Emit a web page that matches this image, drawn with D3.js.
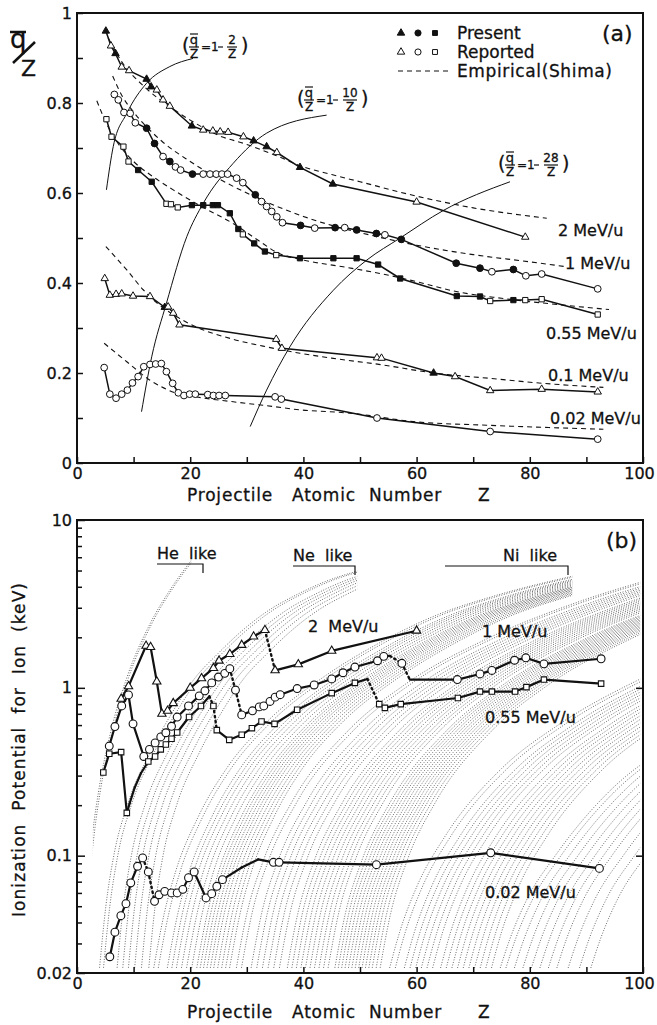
<!DOCTYPE html>
<html>
<head>
<meta charset="utf-8">
<script src="https://cdn.jsdelivr.net/npm/d3@7"></script>
<style>
  body { margin: 0; background: #fff; }
  text { font-family: "DejaVu Sans", sans-serif; fill: #111; stroke: #111; stroke-width: 0.3; }
</style>
</head>
<body>
<svg id="fig" width="657" height="1025"></svg>
<script>
// ---------- panel (a): mean charge fraction q/Z vs Z ----------
// 2 MeV/u (triangles)
var zA2 = [5.1, 6.0, 6.8, 7.9, 9.2, 12.3, 13.1, 14.1, 15.2, 16.4, 20.3, 22.3, 24.0, 25.3, 26.7, 29.4, 31.2, 33.5, 35.3, 39.4, 45.2, 60.0, 79.2];
var qA2 = [0.96, 0.927, 0.91, 0.88, 0.872, 0.853, 0.836, 0.829, 0.807, 0.793, 0.749, 0.74, 0.738, 0.736, 0.735, 0.725, 0.716, 0.703, 0.69, 0.657, 0.62, 0.58, 0.502];
var fA2 = [1, 0, 1, 0, 0, 1, 1, 0, 0, 0, 1, 0, 0, 0, 0, 0, 1, 1, 0, 1, 1, 0, 0];
// 1 MeV/u (circles)
var zA1 = [6.6, 7.3, 8.3, 9.4, 10.3, 12.3, 13.7, 15.2, 16.4, 17.4, 18.3, 20.4, 22.3, 23.5, 24.6, 25.6, 26.6, 28.2, 29.3, 31.5, 32.6, 33.5, 34.4, 35.3, 36.3, 39.5, 42.0, 45.6, 47.3, 49.4, 52.9, 54.4, 57.3, 67.0, 71.2, 73.3, 77.1, 79.3, 82.1, 92.0];
var qA1 = [0.819, 0.807, 0.779, 0.777, 0.756, 0.744, 0.71, 0.681, 0.67, 0.658, 0.651, 0.642, 0.642, 0.642, 0.642, 0.642, 0.642, 0.633, 0.623, 0.596, 0.581, 0.57, 0.559, 0.547, 0.534, 0.528, 0.522, 0.523, 0.523, 0.518, 0.51, 0.507, 0.497, 0.444, 0.433, 0.425, 0.43, 0.416, 0.42, 0.387];
var fA1 = [0, 0, 0, 0, 0, 1, 1, 0, 1, 0, 0, 1, 0, 0, 0, 0, 0, 0, 0, 1, 0, 0, 0, 0, 0, 1, 0, 1, 0, 1, 1, 0, 1, 1, 1, 0, 1, 0, 0, 0];
// 0.55 MeV/u (squares)
var zA055 = [5.2, 6.1, 8.2, 9.1, 10.8, 13.2, 15.8, 16.6, 17.8, 20.3, 22.3, 24.0, 24.9, 27.0, 28.5, 29.3, 31.3, 33.2, 35.2, 39.4, 45.3, 49.4, 53.2, 57.1, 67.1, 71.2, 73.0, 77.1, 79.2, 82.1, 92.0];
var qA055 = [0.764, 0.725, 0.703, 0.67, 0.651, 0.625, 0.576, 0.575, 0.568, 0.573, 0.573, 0.573, 0.573, 0.555, 0.52, 0.508, 0.488, 0.47, 0.462, 0.455, 0.455, 0.455, 0.441, 0.41, 0.371, 0.37, 0.36, 0.362, 0.362, 0.364, 0.33];
var fA055 = [0, 0, 0, 0, 1, 1, 0, 0, 0, 1, 1, 1, 1, 1, 1, 0, 1, 1, 0, 1, 1, 1, 1, 1, 1, 1, 0, 1, 0, 0, 0];
// 0.1 MeV/u (triangles)
var zA01 = [4.9, 5.8, 6.9, 7.9, 9.9, 12.9, 15.5, 16.1, 17.0, 18.1, 35.2, 36.2, 53.0, 53.8, 63.0, 66.8, 73.0, 82.1, 92.0];
var qA01 = [0.41, 0.373, 0.375, 0.376, 0.371, 0.37, 0.346, 0.347, 0.333, 0.307, 0.275, 0.255, 0.234, 0.233, 0.2, 0.192, 0.161, 0.164, 0.158];
var fA01 = [0, 0, 0, 0, 0, 0, 1, 0, 0, 0, 0, 0, 0, 0, 1, 0, 0, 0, 0];
// 0.02 MeV/u (circles)
var zA002 = [4.8, 5.8, 6.9, 7.9, 8.9, 9.8, 10.8, 11.8, 12.9, 13.9, 14.9, 15.8, 16.9, 17.9, 18.9, 19.9, 20.9, 23.1, 24.1, 25.1, 26.2, 35.0, 36.1, 53.0, 73.0, 92.0];
var qA002 = [0.212, 0.153, 0.144, 0.153, 0.162, 0.178, 0.192, 0.214, 0.219, 0.22, 0.221, 0.203, 0.177, 0.156, 0.15, 0.153, 0.153, 0.152, 0.15, 0.15, 0.15, 0.147, 0.142, 0.1, 0.07, 0.053];

// empirical curves (Shima)
var shZ2 = [5.5, 8, 12, 16, 20, 25, 30, 35, 40, 45, 50, 60, 70, 83];
var shQ2 = [0.945, 0.89, 0.835, 0.795, 0.762, 0.728, 0.708, 0.684, 0.658, 0.641, 0.625, 0.593, 0.567, 0.544];
var shZ1 = [6.3, 8, 10, 15, 20, 25, 30, 35, 40, 45, 50, 60, 70, 80, 86];
var shQ1 = [0.86, 0.815, 0.78, 0.715, 0.67, 0.632, 0.6, 0.572, 0.548, 0.528, 0.512, 0.484, 0.463, 0.447, 0.437];
var shZ055 = [3.5, 5, 7, 10, 13, 17, 22, 27.6, 32, 35.3, 40, 47, 54, 60, 67, 75, 85, 94];
var shQ055 = [0.805, 0.76, 0.715, 0.67, 0.64, 0.607, 0.57, 0.532, 0.495, 0.468, 0.451, 0.436, 0.42, 0.403, 0.381, 0.366, 0.352, 0.341];
var shZ01 = [5.1, 8.8, 11.7, 14.1, 17, 20.6, 27.6, 33.5, 39.4, 45, 54, 63, 73, 82.4, 93];
var shQ01 = [0.481, 0.429, 0.385, 0.356, 0.33, 0.305, 0.275, 0.258, 0.244, 0.233, 0.218, 0.2, 0.188, 0.177, 0.168];
var shZ002 = [4.8, 8.8, 12.9, 17.6, 22, 27.6, 35, 39.4, 44.7, 48.8, 59.4, 72.4, 93];
var shQ002 = [0.266, 0.225, 0.184, 0.155, 0.145, 0.136, 0.125, 0.118, 0.114, 0.11, 0.092, 0.084, 0.075];

// thin reference curves q/Z = 1 - n/Z
var refZ2 = [5.2, 6.4, 8.8, 12.3, 16.4, 20.5];
var refQ2 = [0.607, 0.703, 0.777, 0.844, 0.881, 0.899];
var refZ10 = [11.4, 13.2, 15.8, 19.4, 22.3, 27.6, 33.5, 44.1];
var refQ10 = [0.114, 0.236, 0.355, 0.503, 0.577, 0.666, 0.733, 0.773];
var refZ28 = [30.6, 33.5, 37.6, 45.3, 51.2, 57.1, 64.7, 76.5];
var refQ28 = [0.081, 0.162, 0.258, 0.384, 0.451, 0.5, 0.561, 0.625];

// ---------- panel (b): ionization potential (keV) vs Z ----------
var zB2 = [7.8, 9.1, 12.2, 13.0, 14.1, 15.0, 16.0, 17.0, 20.0, 22.0, 24.1, 25.1, 27.0, 29.1, 31.2, 33.2, 35.0, 39.1, 45.0, 60.0];
var iB2 = [0.86, 1.02, 1.78, 1.75, 1.09, 0.70, 0.73, 0.81, 1.0, 1.14, 1.31, 1.45, 1.59, 1.8, 2.02, 2.21, 1.27, 1.38, 1.66, 2.19];
var dotB2 = [16];
var hideB2 = [];

var zB1 = [5.7, 6.7, 7.9, 9.1, 9.9, 11.8, 12.8, 13.8, 14.8, 15.7, 16.7, 17.7, 19.7, 21.6, 22.6, 23.8, 25.0, 26.1, 27.0, 28.0, 29.1, 31.0, 32.2, 33.0, 34.1, 35.0, 35.9, 38.9, 41.9, 45.0, 47.0, 49.1, 53.1, 54.2, 55.3, 57.4, 58.8, 67.2, 71.2, 73.3, 77.3, 79.3, 82.5, 92.6];
var iB1 = [0.45, 0.588, 0.78, 0.908, 0.61, 0.39, 0.43, 0.47, 0.51, 0.54, 0.59, 0.67, 0.78, 0.896, 0.96, 1.07, 1.16, 1.22, 1.30, 0.97, 0.69, 0.73, 0.77, 0.78, 0.83, 0.88, 0.91, 0.99, 1.04, 1.13, 1.23, 1.33, 1.45, 1.54, 1.55, 1.40, 1.12, 1.12, 1.21, 1.27, 1.46, 1.51, 1.39, 1.49];
var dotB1 = [19, 20, 34, 35, 36];
var hideB1 = [34, 36];

var zB055 = [4.65, 5.7, 7.8, 8.8, 9.3, 10.2, 11.3, 12.6, 13.8, 14.8, 15.7, 16.7, 17.7, 19.8, 21.9, 23.4, 24.1, 24.7, 26.9, 29.1, 30.9, 32.6, 34.9, 38.9, 45.0, 49.1, 51.3, 53.4, 54.4, 57.2, 67.3, 71.2, 73.3, 77.4, 79.4, 82.5, 92.6];
var iB055 = [0.313, 0.405, 0.414, 0.18, 0.205, 0.255, 0.31, 0.364, 0.39, 0.43, 0.46, 0.497, 0.542, 0.67, 0.78, 0.89, 0.78, 0.56, 0.49, 0.525, 0.575, 0.63, 0.61, 0.74, 0.93, 1.07, 1.13, 0.80, 0.76, 0.80, 0.87, 0.95, 0.95, 0.95, 1.01, 1.12, 1.06];
var dotB055 = [16, 17, 27];
var hideB055 = [4, 5, 6, 15, 26];

var zB002 = [5.8, 6.7, 7.75, 8.65, 9.5, 10.7, 11.6, 12.6, 13.7, 14.5, 15.5, 16.7, 17.7, 18.7, 19.7, 20.7, 22.8, 23.8, 24.7, 25.7, 29.1, 32.0, 34.7, 35.7, 52.9, 73.1, 92.3];
var iB002 = [0.025, 0.035, 0.0439, 0.0518, 0.0689, 0.0865, 0.097, 0.080, 0.0535, 0.0585, 0.0613, 0.060, 0.060, 0.063, 0.0739, 0.080, 0.056, 0.0594, 0.0657, 0.072, 0.085, 0.095, 0.0913, 0.0913, 0.0884, 0.104, 0.084];
var dotB002 = [7, 8];
var hideB002 = [20, 21];

// background dotted sequences: arc shapes per shell, [Z offset, keV]
var shapeK = [[0, 0.02], [0.5, 0.04], [1, 0.066], [2, 0.14], [3, 0.24], [5, 0.52], [8, 1.15], [12, 2.37], [16, 4.0], [20, 6.1]];
var shapeL = [[0, 0.02], [1.2, 0.05], [2.6, 0.1], [5, 0.2], [9, 0.41], [13, 0.72], [17, 1.15], [21, 1.6], [25, 2.15], [30, 2.9], [35, 3.6], [40, 4.3], [46, 5.0]];
var shapeM = [[0, 0.02], [2, 0.045], [4, 0.08], [8, 0.17], [13, 0.33], [20, 0.62], [30, 1.15], [40, 1.85], [50, 2.7], [60, 3.5], [75, 4.7]];
var shapeN = [[0, 0.02], [2, 0.045], [5, 0.095], [10, 0.21], [20, 0.56], [30, 1.05], [45, 2.0], [60, 3.2], [75, 4.6]];
var shapeO = [[0, 0.02], [2, 0.035], [5, 0.065], [10, 0.13], [20, 0.33], [30, 0.6], [45, 1.15]];
var shapeP = [[0, 0.02], [2, 0.032], [5, 0.055], [10, 0.1], [20, 0.25], [30, 0.45]];
// where each sequence leaves the 0.02 keV floor
var startK = [0.8, 1.1];
var startL = [3.9, 4.6, 7.0, 8.0, 9.0, 10.1, 11.3, 12.6];
var startM = [13.4, 14.2, 15.8, 16.6, 17.4, 18.3, 19.2, 20.1, 21.0, 21.6, 22.2, 22.8, 23.4, 24.0, 24.7, 25.4, 26.1, 26.8];
var startN = [28.0, 28.9, 30.6, 31.6, 32.6, 33.6, 34.6, 35.6, 37.0, 37.8, 38.6, 39.4, 40.2, 41.0, 41.8, 42.6, 43.4, 44.2, 45.4, 46.0, 46.6, 47.2, 47.8, 48.4, 49.0, 49.6, 50.2, 50.8, 51.4, 52.0, 52.7, 53.4];
var startO = [55.0, 56.0, 57.6, 58.6, 59.6, 60.6, 61.6, 62.6, 64.0, 65.0, 66.0, 67.0, 68.0, 69.0, 70.0, 71.0, 72.0, 73.0];
var startP = [74.5, 75.5, 77.0, 78.5, 80.0, 81.5, 83.0, 84.5, 86.5, 88.5, 90.5];

var ink = '#111';
var svg = d3.select('#fig');
var defs = svg.append('defs');

var xA = d3.scaleLinear().domain([0, 100]).range([77, 643]);
var yA = d3.scaleLinear().domain([0, 1]).range([463, 13]);
var xB = d3.scaleLinear().domain([0, 100]).range([77, 643]);
var yB = d3.scaleLog().domain([0.02, 10]).range([973, 520]);

var tidy = function(g) {
  g.select('.domain').remove();
  g.attr('font-family', null).attr('font-size', null);
  g.selectAll('line').attr('stroke', ink).attr('stroke-width', 1.5);
  g.selectAll('text').attr('font-size', 16).attr('fill', ink);
  // keep the "100" label inside the page
  g.selectAll('.tick').filter(function(d) { return d === 100; }).select('text').attr('dx', -4);
};

var addText = function(x, y, str, size, extra) {
  var t = svg.append('text').attr('x', x).attr('y', y).attr('font-size', size).text(str);
  if (extra) extra(t);
  return t;
};

// ================= panel (a) =================
var gA = svg.append('g');

// thin reference curves
[[refZ2, refQ2], [refZ10, refQ10], [refZ28, refQ28]].forEach(function(c) {
  var pts = c[0].map(function(z, i) { return [z, c[1][i]]; });
  gA.append('path').datum(pts)
    .attr('d', d3.line().x(function(d) { return xA(d[0]); }).y(function(d) { return yA(d[1]); }).curve(d3.curveMonotoneX))
    .attr('fill', 'none').attr('stroke', ink).attr('stroke-width', 1);
});

// Shima dashed curves
[[shZ2, shQ2], [shZ1, shQ1], [shZ055, shQ055], [shZ01, shQ01], [shZ002, shQ002]].forEach(function(c) {
  var pts = c[0].map(function(z, i) { return [z, c[1][i]]; });
  gA.append('path').datum(pts)
    .attr('d', d3.line().x(function(d) { return xA(d[0]); }).y(function(d) { return yA(d[1]); }).curve(d3.curveMonotoneX))
    .attr('fill', 'none').attr('stroke', ink).attr('stroke-width', 1.1).attr('stroke-dasharray', '5,4');
});

var seriesA = function(z, q, filled, shape, size) {
  var pts = z.map(function(d, i) { return { z: d, q: q[i], f: filled ? filled[i] : 0 }; });
  gA.append('path').datum(pts)
    .attr('d', d3.line().x(function(d) { return xA(d.z); }).y(function(d) { return yA(d.q); }))
    .attr('fill', 'none').attr('stroke', ink).attr('stroke-width', 1.5);
  gA.append('g').selectAll('path').data(pts).join('path')
    .attr('d', d3.symbol(shape, size))
    .attr('transform', function(d) { return 'translate(' + xA(d.z) + ',' + yA(d.q) + ')'; })
    .attr('fill', function(d) { return d.f ? ink : '#fff'; })
    .attr('stroke', ink).attr('stroke-width', 1);
};
seriesA(zA2, qA2, fA2, d3.symbolTriangle, 24);
seriesA(zA1, qA1, fA1, d3.symbolCircle, 36);
seriesA(zA055, qA055, fA055, d3.symbolSquare, 28);
seriesA(zA01, qA01, fA01, d3.symbolTriangle, 24);
seriesA(zA002, qA002, null, d3.symbolCircle, 36);

// frame + axes (a)
svg.append('rect').attr('x', xA(0)).attr('y', yA(1)).attr('width', xA(100) - xA(0)).attr('height', yA(0) - yA(1))
  .attr('fill', 'none').attr('stroke', ink).attr('stroke-width', 2);
svg.append('g').attr('transform', 'translate(0,' + yA(0) + ')')
  .call(d3.axisBottom(xA).tickValues([0, 20, 40, 60, 80, 100]).tickSize(-6).tickPadding(5).tickFormat(d3.format('d')))
  .call(tidy);
svg.append('g').attr('transform', 'translate(0,' + yA(0) + ')')
  .call(d3.axisBottom(xA).tickValues([10, 30, 50, 70, 90]).tickSize(-6).tickFormat(''))
  .call(tidy);
svg.append('g').attr('transform', 'translate(' + xA(0) + ',0)')
  .call(d3.axisLeft(yA).tickValues([0, 0.2, 0.4, 0.6, 0.8, 1]).tickSize(-6).tickPadding(5)
    .tickFormat(function(d) { return d === 0 || d === 1 ? String(d) : d.toFixed(1); }))
  .call(tidy);
svg.append('g').attr('transform', 'translate(' + xA(0) + ',0)')
  .call(d3.axisLeft(yA).tickValues([0.1, 0.3, 0.5, 0.7, 0.9]).tickSize(-6).tickFormat(''))
  .call(tidy);

// y label q/Z
addText(10, 48, 'q', 26);
svg.append('line').attr('x1', 10).attr('x2', 26).attr('y1', 32).attr('y2', 32).attr('stroke', ink).attr('stroke-width', 2.5);
svg.append('line').attr('x1', 13).attr('x2', 35).attr('y1', 63).attr('y2', 42).attr('stroke', ink).attr('stroke-width', 2.5);
addText(21, 76, 'Z', 22);

// x labels
var xLabel = function(y) {
  [['Projectile', 187], ['Atomic', 292], ['Number', 369], ['Z', 478]].forEach(function(w) {
    addText(w[1], y, w[0], 17, function(t) { t.attr('letter-spacing', 0.8); });
  });
};
xLabel(501);

// legend
var legendRows = [['Present', 1], ['Reported', 0]];
var legShapes = [d3.symbolTriangle, d3.symbolCircle, d3.symbolSquare];
legendRows.forEach(function(r, ri) {
  var y = 33 + ri * 19;
  legShapes.forEach(function(s, si) {
    svg.append('path').attr('d', d3.symbol(s, si === 1 ? 30 : 24)())
      .attr('transform', 'translate(' + (401 + si * 17) + ',' + y + ')')
      .attr('fill', r[1] ? ink : '#fff').attr('stroke', ink).attr('stroke-width', 1);
  });
  addText(457, y + 6, r[0], 17);
});
svg.append('line').attr('x1', 398).attr('x2', 449).attr('y1', 71).attr('y2', 71)
  .attr('stroke', ink).attr('stroke-width', 1.2).attr('stroke-dasharray', '5,4');
addText(457, 77, 'Empirical(Shima)', 17, function(t) { t.attr('textLength', 155); });
addText(602, 41, '(a)', 22);

// series names (a)
addText(558, 236, '2 MeV/u', 16);
addText(565, 269, '1 MeV/u', 16);
addText(546, 339, '0.55 MeV/u', 16);
addText(548, 381, '0.1 MeV/u', 16);
addText(550, 424, '0.02 MeV/u', 16);

// q/Z = 1 - n/Z labels
var fracLabel = function(x, cy, n) {
  var g = svg.append('g').attr('transform', 'translate(' + x + ',' + cy + ')');
  var bar = function(x1, x2, y) {
    g.append('line').attr('x1', x1).attr('x2', x2).attr('y1', y).attr('y2', y).attr('stroke', ink).attr('stroke-width', 1.2);
  };
  g.append('text').attr('x', 0).attr('y', 6).attr('font-size', 19).text('(');
  g.append('text').attr('x', 12).attr('y', -2).attr('text-anchor', 'middle').attr('font-size', 13).text('q');
  bar(8, 16, -12);
  bar(7, 17, 1);
  g.append('text').attr('x', 12).attr('y', 12).attr('text-anchor', 'middle').attr('font-size', 12).text('Z');
  g.append('text').attr('x', 19).attr('y', 5).attr('font-size', 12).text('=1');
  bar(36, 41, 1);
  var fx = 50 + (n.length - 1) * 3;
  g.append('text').attr('x', fx).attr('y', -2).attr('text-anchor', 'middle').attr('font-size', 12).text(n);
  bar(fx - 3 - n.length * 2, fx + 3 + n.length * 2, 1);
  g.append('text').attr('x', fx).attr('y', 12).attr('text-anchor', 'middle').attr('font-size', 12).text('Z');
  g.append('text').attr('x', fx + 7 + n.length * 2).attr('y', 6).attr('font-size', 19).text(')');
};
fracLabel(182, 46, '2');
fracLabel(297, 99, '10');
fracLabel(498, 164, '28');

// ================= panel (b) =================
var arcLine = d3.line().x(function(d) { return xB(d[0]); }).y(function(d) { return yB(d[1]); }).curve(d3.curveMonotoneX);
var band = function(starts, shape, zmin, zmax, id) {
  defs.append('clipPath').attr('id', id).append('rect')
    .attr('x', xB(zmin)).attr('y', yB(10)).attr('width', xB(zmax) - xB(zmin)).attr('height', yB(0.02) - yB(10) - 4);
  svg.append('g').attr('clip-path', 'url(#' + id + ')')
    .selectAll('path').data(starts).join('path')
    .attr('d', function(zb) { return arcLine(shape.map(function(p) { return [zb + p[0], p[1]]; })); })
    .attr('fill', 'none').attr('stroke', '#333').attr('stroke-width', 0.8).attr('stroke-dasharray', '0.9,1.7');
};
band(startK, shapeK, 2.8, 20.2, 'cK');
band(startL, shapeL, 0, 49.5, 'cL');
band(startM, shapeM, 0, 87.5, 'cM');
band(startN, shapeN, 0, 99.5, 'cN');
band(startO, shapeO, 0, 99.5, 'cO');
band(startP, shapeP, 0, 99.5, 'cP');

var gB = svg.append('g');
var seriesB = function(z, v, dotted, hidden, shape, size) {
  var pts = z.map(function(d, i) { return { z: d, v: v[i], i: i }; });
  for (var i = 1; i < pts.length; i++) {
    var dot = dotted.indexOf(i) >= 0;
    gB.append('line')
      .attr('x1', xB(pts[i - 1].z)).attr('y1', yB(pts[i - 1].v))
      .attr('x2', xB(pts[i].z)).attr('y2', yB(pts[i].v))
      .attr('stroke', ink).attr('stroke-width', dot ? 2.4 : 2.2)
      .attr('stroke-linecap', 'round')
      .attr('stroke-dasharray', dot ? '1.5,3.5' : null);
  }
  gB.append('g').selectAll('path').data(pts.filter(function(d) { return hidden.indexOf(d.i) < 0; })).join('path')
    .attr('d', d3.symbol(shape, size))
    .attr('transform', function(d) { return 'translate(' + xB(d.z) + ',' + yB(d.v) + ')'; })
    .attr('fill', '#fff').attr('stroke', ink).attr('stroke-width', 1.1);
};
seriesB(zB2, iB2, dotB2, hideB2, d3.symbolTriangle, 30);
seriesB(zB1, iB1, dotB1, hideB1, d3.symbolCircle, 48);
seriesB(zB055, iB055, dotB055, hideB055, d3.symbolSquare, 30);
seriesB(zB002, iB002, dotB002, hideB002, d3.symbolCircle, 48);

// frame + axes (b)
svg.append('rect').attr('x', xB(0)).attr('y', yB(10)).attr('width', xB(100) - xB(0)).attr('height', yB(0.02) - yB(10))
  .attr('fill', 'none').attr('stroke', ink).attr('stroke-width', 2);
svg.append('g').attr('transform', 'translate(0,' + yB(0.02) + ')')
  .call(d3.axisBottom(xB).tickValues([0, 20, 40, 60, 80, 100]).tickSize(-6).tickPadding(5).tickFormat(d3.format('d')))
  .call(tidy);
svg.append('g').attr('transform', 'translate(0,' + yB(0.02) + ')')
  .call(d3.axisBottom(xB).tickValues([10, 30, 50, 70, 90]).tickSize(-6).tickFormat(''))
  .call(tidy);
svg.append('g').attr('transform', 'translate(' + xB(0) + ',0)')
  .call(d3.axisLeft(yB).tickValues([0.02, 0.1, 1, 10]).tickSize(-8).tickPadding(5)
    .tickFormat(function(d) { return d === 0.02 ? '0.02' : String(d); }))
  .call(tidy);
var minorB = [0.03, 0.04, 0.05, 0.06, 0.07, 0.08, 0.09, 0.2, 0.3, 0.4, 0.5, 0.6, 0.7, 0.8, 0.9, 2, 3, 4, 5, 6, 7, 8, 9];
svg.append('g').attr('transform', 'translate(' + xB(0) + ',0)')
  .call(d3.axisLeft(yB).tickValues(minorB).tickSize(-5).tickFormat(''))
  .call(tidy);
svg.append('g').attr('transform', 'translate(' + xB(100) + ',0)')
  .call(d3.axisRight(yB).tickValues([0.1, 1]).tickSize(-7).tickFormat(''))
  .call(tidy);

xLabel(1018);
addText(0, 0, 'Ionization  Potential  for  Ion  (keV)', 17, function(t) {
  t.attr('transform', 'translate(25,750) rotate(-90)').attr('text-anchor', 'middle')
    .attr('textLength', 334).attr('lengthAdjust', 'spacing').style('white-space', 'pre');
});
addText(606, 548, '(b)', 22);

// shell labels with brackets
var bracket = function(x0, x1, y, label, lx) {
  svg.append('path').attr('d', 'M' + x0 + ',' + y + 'H' + x1 + 'V' + (y + 9))
    .attr('fill', 'none').attr('stroke', ink).attr('stroke-width', 1.2);
  addText(lx, y - 5, label, 16, function(t) { t.style('white-space', 'pre'); });
};
bracket(157, 203, 564, 'He  like', 157);
bracket(293, 355, 566, 'Ne  like', 293);
bracket(445, 568, 566, 'Ni  like', 503);

// series names (b)
addText(308, 632, '2  MeV/u', 16, function(t) { t.style('white-space', 'pre'); });
addText(482, 637, '1 MeV/u', 16);
addText(485, 723, '0.55 MeV/u', 16);
addText(485, 898, '0.02 MeV/u', 16);
</script>
</body>
</html>
